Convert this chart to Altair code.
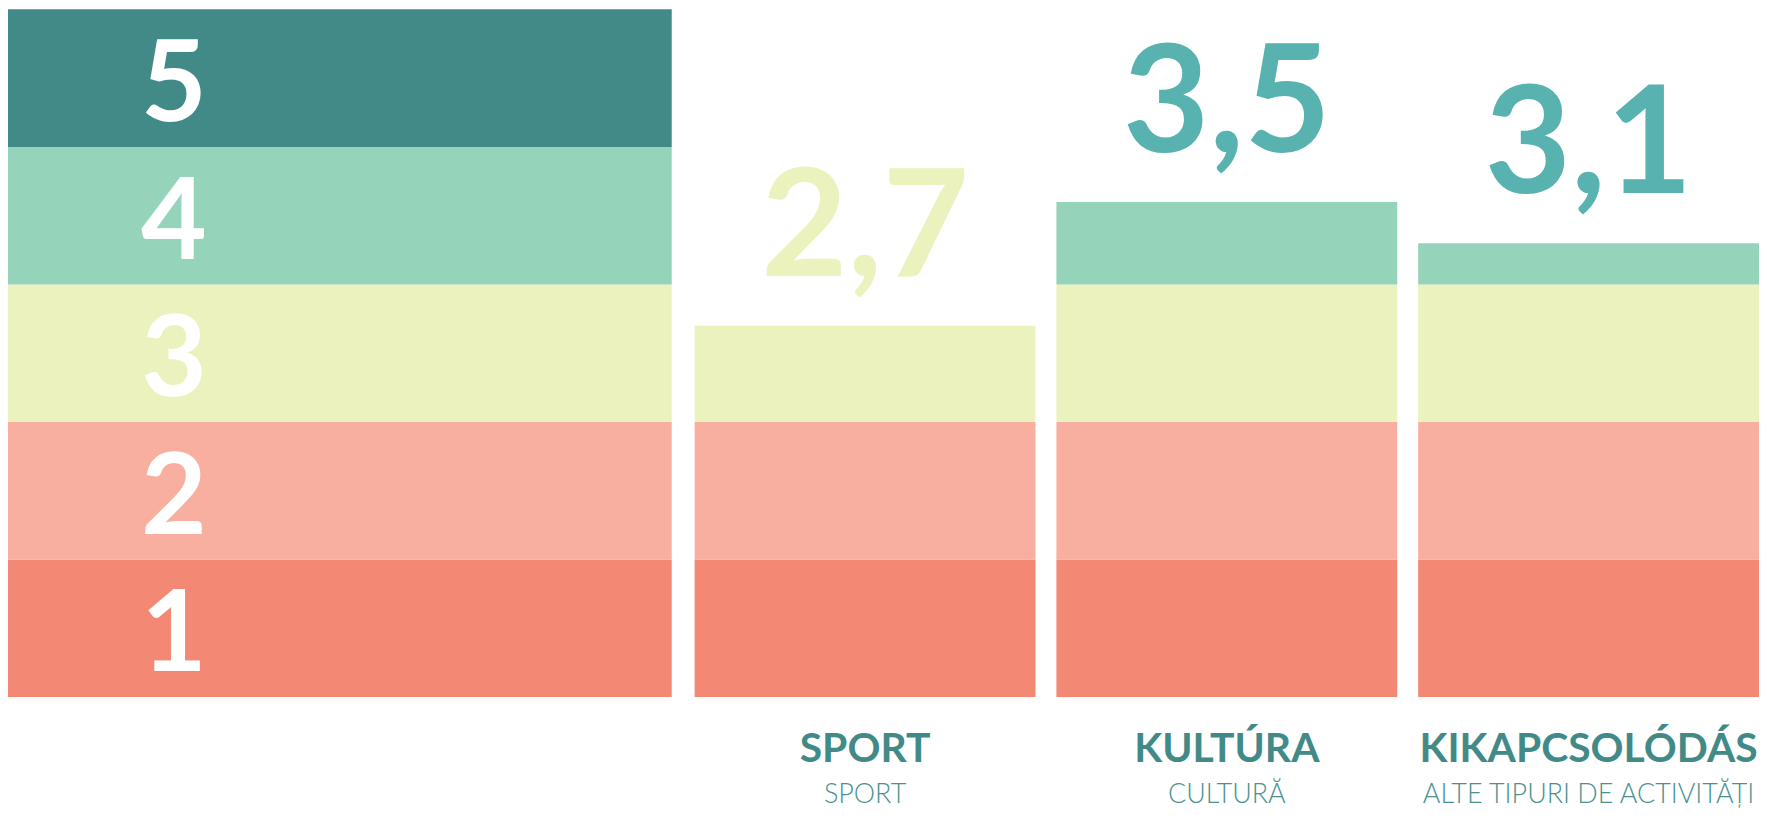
import altair as alt
import pandas as pd

# ---- data ----
levels = [1, 2, 3, 4, 5]
level_labels = ["1", "2", "3", "4", "5"]
level_colors = ["#F38874", "#F8AFA0", "#ECF2BE", "#95D3BB", "#418A88"]

categories = ["SPORT", "KULTÚRA", "KIKAPCSOLÓDÁS"]
subtitles = ["SPORT", "CULTURĂ", "ALTE TIPURI DE ACTIVITĂȚI"]
bar_heights = [2.7, 3.6, 3.3]          # heights as drawn in the picture
value_labels = ["2,7", "3,5", "3,1"]   # printed values
label_colors = ["#ECF2BE", "#58B2B0", "#58B2B0"]

TITLE_COLOR = "#418A88"
SUB_COLOR = "#4A9290"

# ---- tables ----
bands = pd.DataFrame({
    "col": ["scale"] * len(levels),
    "level": levels,
    "lo": [l - 1 for l in levels],
    "hi": levels,
    "mid": [l - 0.5 for l in levels],
    "txt": level_labels,
})

seg_rows = []
for c, v in zip(categories, bar_heights):
    for l in levels:
        lo = l - 1
        if v > lo:
            seg_rows.append({"cat": c, "level": l, "lo": lo, "hi": min(l, v)})
segs = pd.DataFrame(seg_rows)

cats = pd.DataFrame({
    "cat": categories,
    "sub": subtitles,
    "v": bar_heights,
    "lab": value_labels,
    "lab_color": label_colors,
})

yscale = alt.Scale(domain=[0, 5], nice=False, zero=True)
color_scale = alt.Scale(domain=levels, range=level_colors)

# ---- left: the 1..5 scale column ----
left_base = alt.Chart(bands)
left_rect = left_base.mark_bar().encode(
    x=alt.X("col:N", axis=None, scale=alt.Scale(paddingInner=0, paddingOuter=0)),
    y=alt.Y("lo:Q", scale=yscale, axis=None),
    y2="hi:Q",
    color=alt.Color("level:O", scale=color_scale, legend=None),
)
left_text = left_base.mark_text(
    font="Lato", fontWeight="bold", fontSize=114, color="white",
    baseline="middle", align="center", dy=9,
).encode(
    x=alt.X("col:N", axis=None, bandPosition=0.25,
            scale=alt.Scale(paddingInner=0, paddingOuter=0)),
    y=alt.Y("mid:Q", scale=yscale, axis=None),
    text="txt:N",
)
left = alt.layer(left_rect, left_text).properties(width=666, height=690)

# ---- right: bars ----
xscale = alt.Scale(domain=categories, paddingInner=21 / 363, paddingOuter=0)
xenc = alt.X("cat:N", sort=categories, axis=None, scale=xscale)

bars = alt.Chart(segs).mark_bar().encode(
    x=xenc,
    y=alt.Y("lo:Q", scale=yscale, axis=None),
    y2="hi:Q",
    color=alt.Color("level:O", scale=color_scale, legend=None),
)

val_text = alt.Chart(cats).mark_text(
    font="Lato", fontWeight="bold", fontSize=150,
    baseline="alphabetic", align="center", dy=-50,
).encode(
    x=xenc,
    y=alt.Y("v:Q", scale=yscale, axis=None),
    text="lab:N",
    color=alt.Color("lab_color:N", scale=None),
)

title_text = alt.Chart(cats).mark_text(
    font="Lato", fontWeight="bold", fontSize=41,
    baseline="alphabetic", align="center", color=TITLE_COLOR,
).encode(
    x=xenc,
    y=alt.value(755),
    text="cat:N",
)

sub_text = alt.Chart(cats).mark_text(
    font="Lato", fontWeight=300, fontSize=27,
    baseline="alphabetic", align="center", color=SUB_COLOR,
).encode(
    x=xenc,
    y=alt.value(796),
    text="sub:N",
)

right = alt.layer(bars, val_text, title_text, sub_text).properties(width=1068, height=690)

chart = alt.hconcat(left, right, spacing=23).properties(
    padding={"left": 0, "top": 0, "right": 0, "bottom": 0}
).configure_view(stroke=None).configure_concat(spacing=23)

chart.save("out.html", embed_options={"renderer": "svg", "actions": False})
